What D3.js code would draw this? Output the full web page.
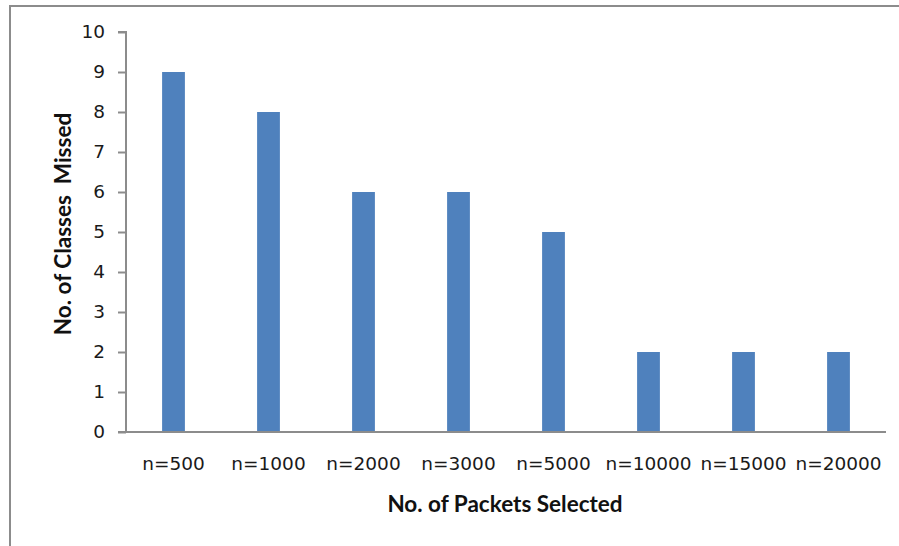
<!DOCTYPE html>
<html>
<head>
<meta charset="utf-8">
<script src="https://cdn.jsdelivr.net/npm/d3@7"></script>
<style>
  html, body { margin: 0; padding: 0; background: #fff; }
  svg { display: block; }
</style>
</head>
<body>
<svg id="chart" width="899" height="546"></svg>
<script>
// Packet sample sizes and the number of classes missed for each
const categories = ["n=500", "n=1000", "n=2000", "n=3000", "n=5000", "n=10000", "n=15000", "n=20000"];
const missed = [9, 8, 6, 6, 5, 2, 2, 2];
const yTicks = [0, 1, 2, 3, 4, 5, 6, 7, 8, 9, 10];
const xTitle = "No. of Packets Selected";
const yTitle = "No. of Classes\u00A0\u00A0Missed";

const svg = d3.select("#chart");
const W = 899, H = 546;
const plot = { left: 126, right: 886, top: 32, bottom: 432 };
const tickFont = "'DejaVu Sans', Verdana, sans-serif";
const titleFont = "Lato, 'Open Sans', sans-serif";

// chart frame
svg.append("rect")
  .attr("x", 10).attr("y", 6)
  .attr("width", W + 20).attr("height", H + 20)
  .attr("fill", "#fff")
  .attr("stroke", "#8c8c8c").attr("stroke-width", 2);

const x = d3.scaleBand()
  .domain(categories)
  .range([plot.left, plot.right])
  .paddingInner(0.76)
  .paddingOuter(0.38);

const y = d3.scaleLinear()
  .domain([0, 10])
  .range([plot.bottom, plot.top]);

// bars
svg.append("g")
  .selectAll("rect")
  .data(categories.map((c, i) => ({ c, v: missed[i] })))
  .join("rect")
  .attr("x", d => x(d.c))
  .attr("y", d => y(d.v))
  .attr("width", x.bandwidth())
  .attr("height", d => y(0) - y(d.v))
  .attr("fill", "#4f81bd");

// y axis
const yAxis = svg.append("g")
  .attr("transform", `translate(${plot.left},0)`)
  .call(d3.axisLeft(y).tickValues(yTicks).tickFormat(d3.format("d")).tickSize(8).tickPadding(13));
yAxis.select(".domain").attr("stroke", "#8c8c8c").attr("stroke-width", 2)
  .attr("d", `M-8,${y(10)}H0V${y(0)}`);
yAxis.selectAll(".tick line").attr("stroke", "#8c8c8c").attr("stroke-width", 2);
yAxis.selectAll(".tick text")
  .attr("fill", "#1a1a1a")
  .style("font-family", tickFont)
  .style("font-size", "18.5px");

// x axis
const xAxis = svg.append("g")
  .attr("transform", `translate(0,${plot.bottom})`)
  .call(d3.axisBottom(x).tickSize(0).tickPadding(25));
xAxis.select(".domain").attr("stroke", "#8c8c8c").attr("stroke-width", 2)
  .attr("d", `M${plot.left - 8},0H${plot.right}`);
xAxis.selectAll(".tick text")
  .attr("fill", "#1a1a1a")
  .style("font-family", tickFont)
  .style("font-size", "18.5px");

// axis titles
svg.append("text")
  .attr("x", 505)
  .attr("y", 512)
  .attr("text-anchor", "middle")
  .style("font-family", titleFont)
  .style("font-weight", "bold")
  .style("font-size", "22.5px")
  .attr("fill", "#111")
  .text(xTitle);

svg.append("text")
  .attr("transform", "translate(71,224) rotate(-90)")
  .attr("text-anchor", "middle")
  .style("font-family", titleFont)
  .style("font-weight", "bold")
  .style("font-size", "22.5px")
  .attr("fill", "#111")
  .text(yTitle);
</script>
</body>
</html>
